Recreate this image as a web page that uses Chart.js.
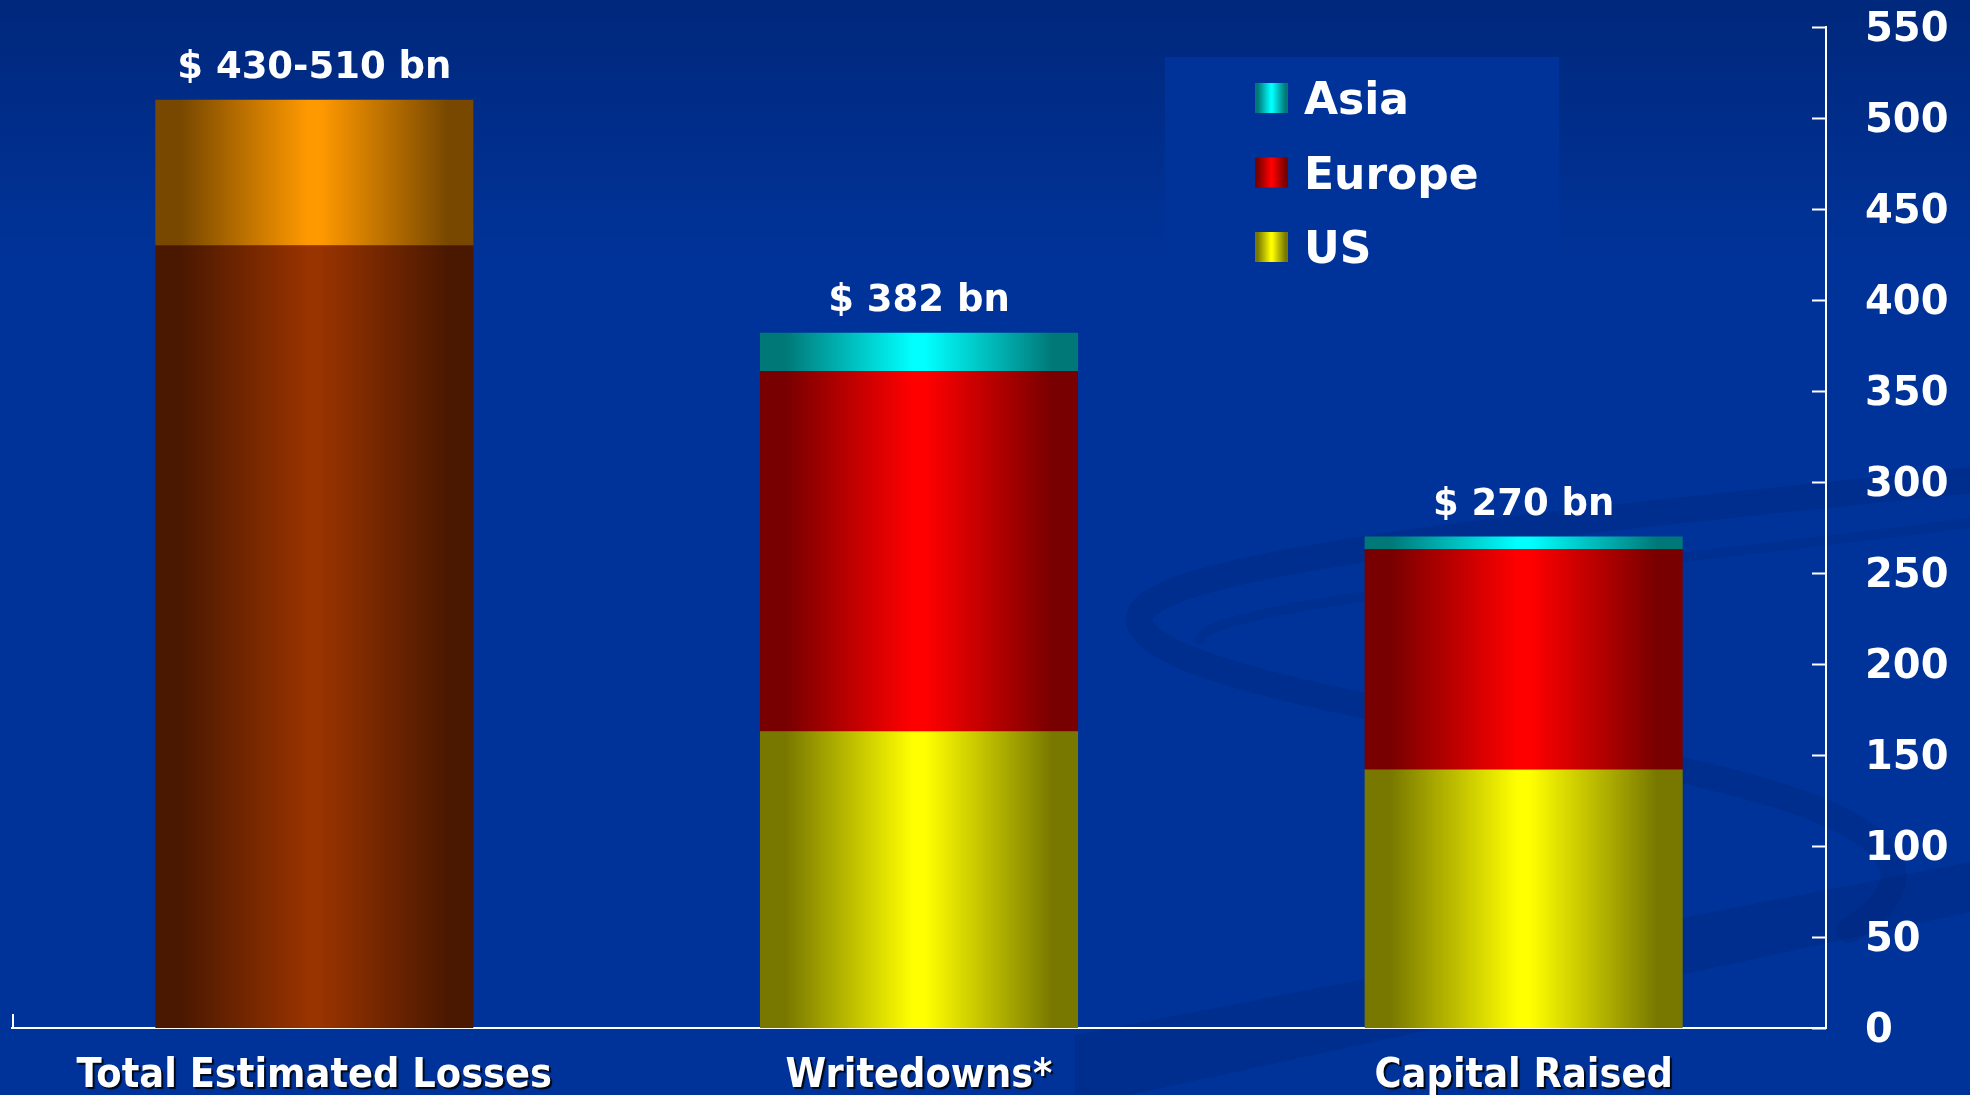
<!DOCTYPE html>
<html>
<head>
<meta charset="utf-8">
<title>Losses, writedowns and capital raised</title>
<script src="https://cdn.jsdelivr.net/npm/chart.js@4.4.1/dist/chart.umd.min.js"></script>
<style>
  html, body { margin: 0; padding: 0; background: #003399; overflow: hidden; }
</style>
</head>
<body>
<canvas id="lossChart" width="1970" height="1095"></canvas>
<script>
// $ bn, per category
const categories = ['Total Estimated Losses', 'Writedowns*', 'Capital Raised'];
const usValues = [null, 163, 142];
const europeValues = [null, 198, 121];
const asiaValues = [null, 21, 7];
const lossLow = [430, null, null];
const lossRange = [80, null, null];
const totalLabels = ['$ 430-510 bn', '$ 382 bn', '$ 270 bn'];
const yTicks = { min: 0, max: 550, step: 50 };

const BAR_PCT = 0.526;
const WHITE = '#ffffff';

// dark edges, bright middle - the "cylinder" shading
function addShade(g, dark, bright) {
    g.addColorStop(0, dark);
    g.addColorStop(0.08, dark);
    g.addColorStop(0.48, bright);
    g.addColorStop(0.52, bright);
    g.addColorStop(0.92, dark);
    g.addColorStop(1, dark);
    return g;
}

function barShade(dark, bright) {
    return function(context) {
        const chart = context.chart;
        const x = chart.scales.x;
        if (context.type !== 'data' || !chart.chartArea || !x) return bright;
        const center = x.getPixelForValue(context.dataIndex);
        const half = (x.width / categories.length) * BAR_PCT / 2;
        const g = chart.ctx.createLinearGradient(center - half, 0, center + half, 0);
        return addShade(g, dark, bright);
    };
}

const palette = {
    asia: ['#007878', '#00ffff'],
    europe: ['#780000', '#ff0000'],
    us: ['#787800', '#ffff00'],
    lossLow: ['#4a1800', '#993300'],
    lossRange: ['#784800', '#ff9900']
};

const legendItems = [
    { label: 'Asia', colors: palette.asia },
    { label: 'Europe', colors: palette.europe },
    { label: 'US', colors: palette.us }
];

// slide backdrop: darker top, swirl and legend panel
const backdrop = {
    id: 'backdrop',
    beforeDraw(chart) {
        const ctx = chart.ctx;
        const w = chart.width, h = chart.height;
        ctx.save();
        const bg = ctx.createLinearGradient(0, 0, 0, 260);
        bg.addColorStop(0, '#00287c');
        bg.addColorStop(1, '#003399');
        ctx.fillStyle = bg;
        ctx.fillRect(0, 0, w, h);

        // swirl
        ctx.strokeStyle = 'rgba(0, 30, 105, 0.22)';
        ctx.lineCap = 'round';
        ctx.lineWidth = 26;
        ctx.beginPath();
        ctx.moveTo(1990, 478);
        ctx.bezierCurveTo(1600, 520, 1110, 560, 1140, 625);
        ctx.bezierCurveTo(1170, 690, 1550, 730, 1760, 790);
        ctx.bezierCurveTo(1900, 830, 1930, 880, 1850, 930);
        ctx.stroke();
        ctx.strokeStyle = 'rgba(0, 30, 105, 0.14)';
        ctx.lineWidth = 10;
        ctx.beginPath();
        ctx.moveTo(1990, 520);
        ctx.bezierCurveTo(1700, 560, 1200, 600, 1200, 640);
        ctx.stroke();

        ctx.fillStyle = 'rgba(0, 30, 105, 0.22)';
        ctx.beginPath();
        ctx.moveTo(1075, 1035);
        ctx.lineTo(1970, 862);
        ctx.lineTo(1970, 912);
        ctx.lineTo(1130, 1095);
        ctx.lineTo(1075, 1095);
        ctx.closePath();
        ctx.fill();

        ctx.fillStyle = '#003399';
        ctx.fillRect(1165, 57, 394, 210);
        ctx.restore();
    }
};

// nudge the value labels so the digits sit centred on their tick marks
const tickNudge = {
    id: 'tickNudge',
    beforeDraw(chart) {
        const y = chart.scales.y;
        y.getLabelItems().forEach(function(item) {
            if (!item._nudged) {
                item.options.translation[1] += 4;
                item._nudged = true;
            }
        });
    }
};

// tick marks point inward; small upright mark at the left end of the base line
const axisMarks = {
    id: 'axisMarks',
    afterDraw(chart) {
        const ctx = chart.ctx;
        const y = chart.scales.y;
        const area = chart.chartArea;
        ctx.save();
        ctx.strokeStyle = WHITE;
        ctx.lineWidth = 2;
        ctx.beginPath();
        for (let v = yTicks.min; v <= yTicks.max; v += yTicks.step) {
            const py = Math.round(y.getPixelForValue(v)) + 0.5;
            ctx.moveTo(area.right - 14, py);
            ctx.lineTo(area.right, py);
        }
        ctx.moveTo(area.left + 1, area.bottom);
        ctx.lineTo(area.left + 1, area.bottom - 14);
        ctx.stroke();
        ctx.restore();
    }
};

// "$ ... bn" above each stack
const totals = {
    id: 'totals',
    afterDatasetsDraw(chart) {
        const ctx = chart.ctx;
        const x = chart.scales.x, y = chart.scales.y;
        ctx.save();
        ctx.fillStyle = WHITE;
        ctx.font = 'bold 37px "DejaVu Sans"';
        ctx.textAlign = 'center';
        ctx.textBaseline = 'alphabetic';
        categories.forEach(function(cat, i) {
            let sum = 0;
            chart.data.datasets.forEach(function(ds) { sum += ds.data[i] || 0; });
            ctx.fillText(totalLabels[i], x.getPixelForValue(i), y.getPixelForValue(sum) - 22);
        });
        ctx.restore();
    }
};

// category names under the base line, with a drop shadow
const categoryNames = {
    id: 'categoryNames',
    afterDraw(chart) {
        const ctx = chart.ctx;
        const x = chart.scales.x;
        ctx.save();
        ctx.fillStyle = WHITE;
        ctx.font = 'bold 41px "DejaVu Sans Condensed", "DejaVu Sans"';
        ctx.textAlign = 'center';
        ctx.textBaseline = 'alphabetic';
        ctx.shadowColor = 'rgba(0, 0, 0, 0.85)';
        ctx.shadowOffsetX = 2;
        ctx.shadowOffsetY = 2;
        ctx.shadowBlur = 1;
        categories.forEach(function(cat, i) {
            ctx.fillText(cat, x.getPixelForValue(i), chart.chartArea.bottom + 59);
        });
        ctx.restore();
    }
};

const legendBox = {
    id: 'legendBox',
    afterDraw(chart) {
        const ctx = chart.ctx;
        ctx.save();
        ctx.font = 'bold 44px "DejaVu Sans"';
        ctx.textBaseline = 'alphabetic';
        legendItems.forEach(function(item, i) {
            const top = 83 + i * 74.5;
            const g = ctx.createLinearGradient(1255, 0, 1288, 0);
            ctx.fillStyle = addShade(g, item.colors[0], item.colors[1]);
            ctx.fillRect(1255, top, 33, 30);
            ctx.fillStyle = WHITE;
            ctx.fillText(item.label, 1304, top + 31);
        });
        ctx.restore();
    }
};

const ctx = document.getElementById('lossChart').getContext('2d');
const lossChart = new Chart(ctx, {
    type: 'bar',
    data: {
        labels: categories,
        datasets: [
            { label: 'US', data: usValues, backgroundColor: barShade(palette.us[0], palette.us[1]) },
            { label: 'Europe', data: europeValues, backgroundColor: barShade(palette.europe[0], palette.europe[1]) },
            { label: 'Asia', data: asiaValues, backgroundColor: barShade(palette.asia[0], palette.asia[1]) },
            { label: 'Losses', data: lossLow, backgroundColor: barShade(palette.lossLow[0], palette.lossLow[1]) },
            { label: 'Losses range', data: lossRange, backgroundColor: barShade(palette.lossRange[0], palette.lossRange[1]) }
        ]
    },
    options: {
        responsive: false,
        devicePixelRatio: 1,
        animation: false,
        datasets: {
            bar: {
                stack: 'regions',
                barPercentage: BAR_PCT,
                categoryPercentage: 1,
                borderWidth: 0
            }
        },
        layout: {
            padding: { top: 27, left: 12, right: 0, bottom: 0 }
        },
        scales: {
            x: {
                stacked: true,
                offset: true,
                grid: { display: false, drawTicks: false },
                border: { display: true, color: WHITE, width: 2 },
                ticks: { display: false },
                afterFit: function(scale) { scale.height = 67; }
            },
            y: {
                position: 'right',
                stacked: true,
                min: yTicks.min,
                max: yTicks.max,
                grid: { display: false, drawTicks: false },
                border: { display: true, color: WHITE, width: 2 },
                ticks: {
                    stepSize: yTicks.step,
                    color: WHITE,
                    padding: 39,
                    font: { family: 'DejaVu Sans', weight: 'bold', size: 40 }
                },
                afterFit: function(scale) {
                    scale.width = 144;
                    scale.paddingTop = 0;
                    scale.paddingBottom = 0;
                }
            }
        },
        plugins: {
            legend: { display: false },
            tooltip: { enabled: false }
        }
    },
    plugins: [backdrop, tickNudge, axisMarks, totals, categoryNames, legendBox]
});
</script>
</body>
</html>
